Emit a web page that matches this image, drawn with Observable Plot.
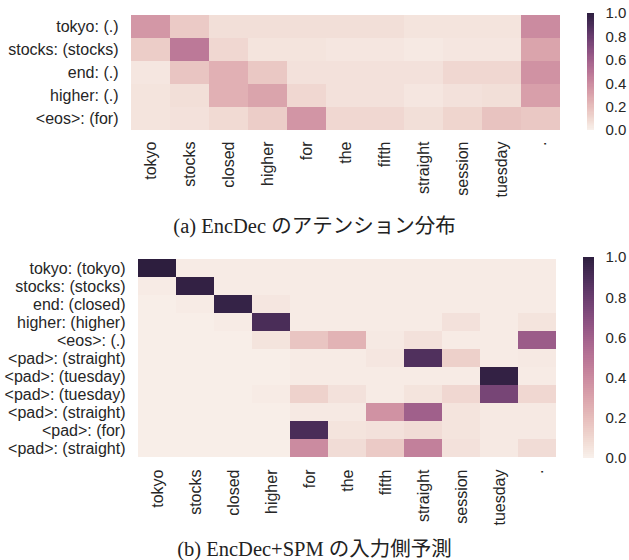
<!DOCTYPE html>
<html>
<head>
<meta charset="utf-8">
<script src="https://cdn.jsdelivr.net/npm/d3@7"></script>
<script src="https://cdn.jsdelivr.net/npm/@observablehq/plot@0.6"></script>
<style>
  html, body { margin: 0; padding: 0; background: #fff; overflow: hidden; }
  #fig { position: relative; width: 629px; height: 560px; background: #fff; }
  #fig svg { position: absolute; left: 0; top: 0; }
  .cap { position: absolute; left: 0; width: 629px; text-align: center; font-family: "Liberation Serif", "Noto Sans CJK JP", serif; font-size: 20.5px; line-height: 24px; color: #222; }
</style>
</head>
<body>
<div id="fig"></div>
<script>
// ---- data ----
const cols = ["tokyo", "stocks", "closed", "higher", "for", "the", "fifth", "straight", "session", "tuesday", "."];

const rowsA = ["tokyo: (.)", "stocks: (stocks)", "end: (.)", "higher: (.)", "<eos>: (for)"];
const valuesA = [
  [0.35, 0.15, 0.07, 0.07, 0.07, 0.07, 0.07, 0.05, 0.05, 0.05, 0.40],
  [0.14, 0.48, 0.10, 0.05, 0.05, 0.04, 0.04, 0.03, 0.04, 0.04, 0.30],
  [0.04, 0.17, 0.25, 0.16, 0.06, 0.06, 0.06, 0.06, 0.10, 0.10, 0.37],
  [0.05, 0.07, 0.25, 0.30, 0.10, 0.06, 0.06, 0.04, 0.06, 0.07, 0.32],
  [0.05, 0.06, 0.09, 0.14, 0.36, 0.10, 0.10, 0.07, 0.11, 0.18, 0.16]
];

const rowsB = ["tokyo: (tokyo)", "stocks: (stocks)", "end: (closed)", "higher: (higher)", "<eos>: (.)",
  "<pad>: (straight)", "<pad>: (tuesday)", "<pad>: (tuesday)", "<pad>: (straight)", "<pad>: (for)", "<pad>: (straight)"];
const valuesB = [
  [1.00, 0.02, 0.02, 0.02, 0.02, 0.02, 0.02, 0.02, 0.02, 0.02, 0.02],
  [0.02, 0.98, 0.02, 0.02, 0.02, 0.02, 0.02, 0.02, 0.02, 0.02, 0.02],
  [0.01, 0.02, 0.97, 0.04, 0.02, 0.02, 0.02, 0.02, 0.02, 0.02, 0.02],
  [0.01, 0.01, 0.02, 0.90, 0.02, 0.02, 0.02, 0.02, 0.06, 0.02, 0.05],
  [0.01, 0.01, 0.01, 0.05, 0.17, 0.24, 0.03, 0.06, 0.02, 0.02, 0.62],
  [0.01, 0.01, 0.01, 0.01, 0.02, 0.02, 0.04, 0.88, 0.13, 0.02, 0.03],
  [0.01, 0.01, 0.01, 0.01, 0.02, 0.02, 0.02, 0.02, 0.02, 0.98, 0.02],
  [0.01, 0.01, 0.01, 0.02, 0.12, 0.06, 0.02, 0.05, 0.10, 0.75, 0.10],
  [0.01, 0.01, 0.01, 0.01, 0.03, 0.03, 0.37, 0.60, 0.05, 0.03, 0.03],
  [0.01, 0.01, 0.01, 0.01, 0.90, 0.05, 0.06, 0.08, 0.05, 0.03, 0.03],
  [0.01, 0.01, 0.01, 0.01, 0.40, 0.08, 0.15, 0.45, 0.06, 0.03, 0.08]
];

const cbarTicks = [0, 0.2, 0.4, 0.6, 0.8, 1.0];

const capA = "(a) EncDec のアテンション分布";
const capB = "(b) EncDec+SPM の入力側予測";

// ---- seaborn cubehelix colormap (light=.95, dark=.15) ----
function cubehelix(x) {
  const start = 0, rot = 0.4, gamma = 1, hue = 0.8;
  const f = (p0, p1) => {
    const xg = Math.pow(x, gamma);
    const a = hue * xg * (1 - xg) / 2;
    const phi = 2 * Math.PI * (start / 3 + rot * x);
    return xg + a * (p0 * Math.cos(phi) + p1 * Math.sin(phi));
  };
  const c = v => Math.round(255 * Math.max(0, Math.min(1, v)));
  return `rgb(${c(f(-0.14861, 1.78277))},${c(f(-0.29227, -0.90649))},${c(f(1.97294, 0))})`;
}
const interp = t => cubehelix(0.95 - 0.8 * t);
const colorScale = {type: "linear", domain: [0, 1], interpolate: interp};

const W = 629, H = 560;
const textColor = "#262626";
const fig = document.getElementById("fig");

function tidy(rows, values) {
  const out = [];
  rows.forEach((r, i) => cols.forEach((c, j) => out.push({row: i, col: c, v: values[i][j]})));
  return out;
}

function heatmap(rows, values, frame) {
  return Plot.plot({
    width: W, height: H,
    marginLeft: frame.x0, marginRight: W - frame.x1,
    marginTop: frame.y0, marginBottom: H - frame.y1,
    style: {fontFamily: "'Liberation Sans', Arial, sans-serif", fontSize: "16px", color: textColor, background: "none", overflow: "visible"},
    x: {domain: cols, padding: 0, tickRotate: -90, tickSize: 0, tickPadding: 11, label: null},
    y: {domain: rows.map((_, i) => i), padding: 0, tickSize: 0, tickPadding: 11, tickFormat: i => rows[i], label: null},
    color: colorScale,
    marks: [
      Plot.cell(tidy(rows, values), {x: "col", y: "row", fill: "v", inset: 0})
    ]
  });
}

function colorbar(frame) {
  const step = 0.01;
  const stops = d3.range(0, 1, step);
  return Plot.plot({
    width: W, height: H,
    marginLeft: frame.x0, marginRight: W - frame.x1,
    marginTop: frame.y0, marginBottom: H - frame.y1,
    style: {fontFamily: "'Liberation Sans', Arial, sans-serif", fontSize: "15px", color: textColor, background: "none", overflow: "visible"},
    x: {domain: [0, 1], axis: null},
    y: {domain: [0, 1], axis: "right", ticks: cbarTicks, tickFormat: d3.format(".1f"), tickSize: 0, tickPadding: 11, label: null},
    color: colorScale,
    marks: [
      Plot.rect(stops, {x1: () => 0, x2: () => 1, y1: d => d, y2: d => Math.min(1, d + 2.5 * step), fill: d => d + step / 2, shapeRendering: "crispEdges"})
    ]
  });
}

fig.append(heatmap(rowsA, valuesA, {x0: 129, x1: 561, y0: 14, y1: 130}));
fig.append(colorbar({x0: 587, x1: 594, y0: 13, y1: 130}));
fig.append(heatmap(rowsB, valuesB, {x0: 136, x1: 557, y0: 257, y1: 458}));
fig.append(colorbar({x0: 583, x1: 594, y0: 257, y1: 458}));

const ca = document.createElement("div");
ca.className = "cap"; ca.style.top = "214px"; ca.textContent = capA;
fig.append(ca);
const cb = document.createElement("div");
cb.className = "cap"; cb.style.top = "537px"; cb.textContent = capB;
fig.append(cb);
</script>
</body>
</html>
